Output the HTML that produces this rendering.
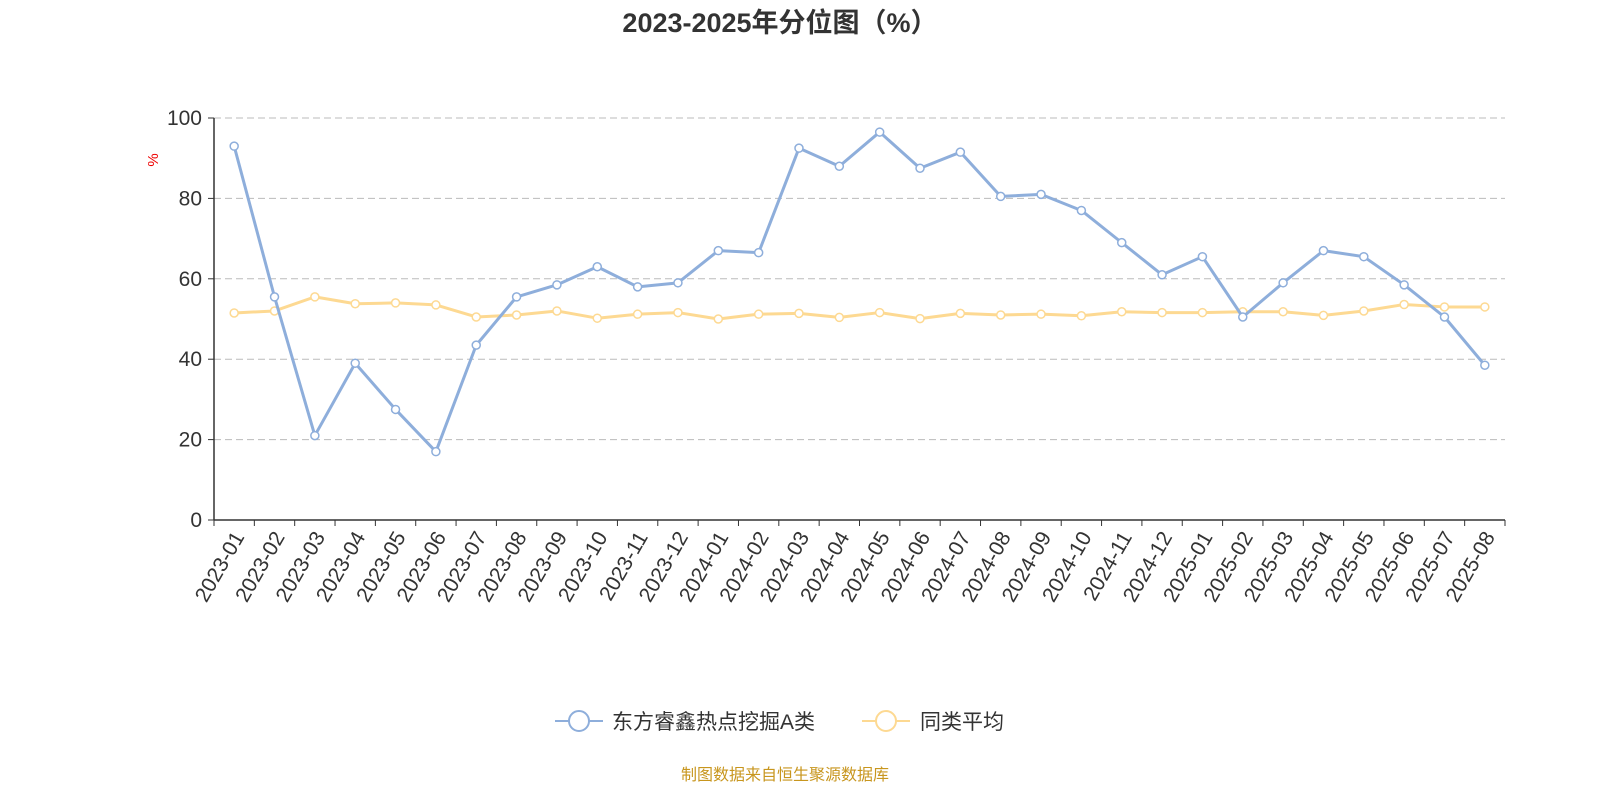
<!DOCTYPE html>
<html><head><meta charset="utf-8"><style>
body{margin:0;background:#fff;width:1600px;height:800px;overflow:hidden;font-family:"Liberation Sans","Noto Sans CJK SC",sans-serif}
</style></head><body>
<svg id="chart" width="1600" height="800" xmlns="http://www.w3.org/2000/svg" font-family="Liberation Sans, Noto Sans CJK SC, sans-serif">
<text x="780" y="32" text-anchor="middle" font-size="27" font-weight="bold" fill="#333">2023-2025年分位图（%）</text>
<text x="158" y="160" font-size="15" fill="#e00" transform="rotate(-90 158 160)" text-anchor="middle">%</text>
<g id="grid"></g><g id="axes"></g><g id="series"></g>
<g>
<g><line x1="555" y1="721" x2="603" y2="721" stroke="#8eaedb" stroke-width="2"/><circle cx="579" cy="721" r="10" fill="#fff" stroke="#8eaedb" stroke-width="2"/><text x="612" y="729" font-size="21" fill="#333">东方睿鑫热点挖掘A类</text></g>
<g><line x1="862" y1="721" x2="910" y2="721" stroke="#fdd992" stroke-width="2"/><circle cx="886" cy="721" r="10" fill="#fff" stroke="#fdd992" stroke-width="2"/><text x="920" y="729" font-size="21" fill="#333">同类平均</text></g>
</g>
<text x="785" y="780" text-anchor="middle" font-size="16" fill="#c8961e">制图数据来自恒生聚源数据库</text>
</svg>
<script>
const categories=["2023-01","2023-02","2023-03","2023-04","2023-05","2023-06","2023-07","2023-08","2023-09","2023-10","2023-11","2023-12","2024-01","2024-02","2024-03","2024-04","2024-05","2024-06","2024-07","2024-08","2024-09","2024-10","2024-11","2024-12","2025-01","2025-02","2025-03","2025-04","2025-05","2025-06","2025-07","2025-08"];
const fundValues=[93,55.5,21,39,27.5,17,43.5,55.5,58.5,63,58,59,67,66.5,92.5,88,96.5,87.5,91.5,80.5,81,77,69,61,65.5,50.5,59,67,65.5,58.5,50.5,38.5];
const avgValues=[51.5,52,55.5,53.8,54,53.5,50.5,51,52,50.2,51.2,51.6,50,51.2,51.4,50.4,51.6,50.1,51.4,51,51.2,50.8,51.8,51.6,51.6,51.8,51.8,50.9,52,53.6,53,53];
const yTicks=[0,20,40,60,80,100];
const NS="http://www.w3.org/2000/svg";
const X0=214,X1=1505,Y0=520,Y1=118;
const bw=(X1-X0)/categories.length;
const xPos=i=>X0+bw*(i+0.5);
const yPos=v=>Y0-(v/100)*(Y0-Y1);
function mk(tag,attrs,parent){const e=document.createElementNS(NS,tag);for(const k in attrs)e.setAttribute(k,attrs[k]);parent.appendChild(e);return e;}
const grid=document.getElementById('grid'),axes=document.getElementById('axes'),series=document.getElementById('series');
yTicks.forEach(t=>{
 const y=yPos(t);
 if(t>0){const g=mk('line',{x1:X0,x2:X1,y1:y,y2:y,stroke:'#bbb','stroke-dasharray':'7,4'},grid);
 
 }
 mk('line',{x1:X0-6,x2:X0,y1:y,y2:y,stroke:'#333'},axes);
 const tx=mk('text',{x:X0-12,y:y+7,'text-anchor':'end','font-size':21,fill:'#333'},axes);
 tx.textContent=t;
 
 
});
const ya=mk('line',{x1:X0,x2:X0,y1:Y1,y2:Y0,stroke:'#333','stroke-width':1.5},axes);


const xa=mk('line',{x1:X0,x2:X1,y1:Y0,y2:Y0,stroke:'#333','stroke-width':1.5},axes);


for(let i=0;i<=categories.length;i++){const x=X0+bw*i;mk('line',{x1:x,x2:x,y1:Y0,y2:Y0+6,stroke:'#333'},axes);}
categories.forEach((c,i)=>{
 const x=xPos(i)+6,y=Y0+14;
 const t=mk('text',{x:x,y:y,'text-anchor':'end','font-size':21,fill:'#333',transform:`rotate(-60 ${x} ${y})`,'dominant-baseline':'middle'},axes);
 t.textContent=c;
 
 
});
function drawSeries(vals,color,name){
 const p=mk('polyline',{points:vals.map((v,i)=>xPos(i)+','+yPos(v)).join(' '),fill:'none',stroke:color,'stroke-width':3,'stroke-linejoin':'round'},series);
 
 
 vals.forEach((v,i)=>{
  const c=mk('circle',{cx:xPos(i),cy:yPos(v),r:4,fill:'#fff',stroke:color,'stroke-width':1.5},series);
  
  
 });
}
drawSeries(avgValues,'#fdd992','average');
drawSeries(fundValues,'#8eaedb','fund');
</script>
</body></html>
